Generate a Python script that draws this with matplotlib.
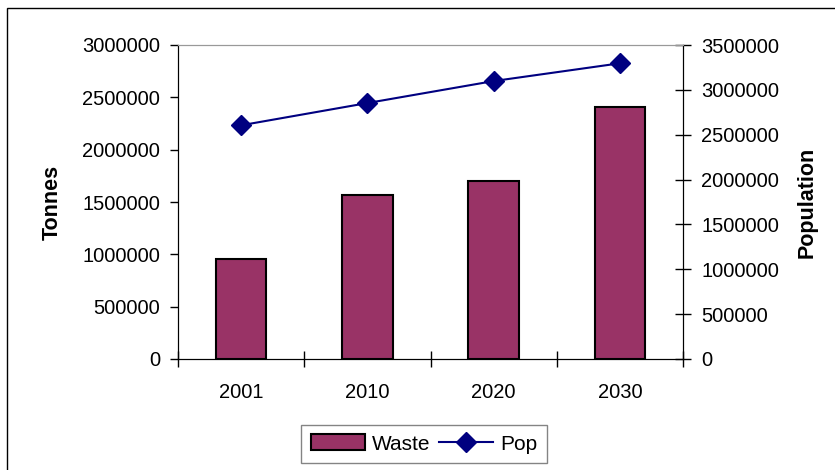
import matplotlib
matplotlib.use('Agg')
import matplotlib.pyplot as plt
from matplotlib.patches import Rectangle
import numpy as np

plt.rcParams['font.family'] = ['Liberation Sans', 'DejaVu Sans']
plt.rcParams['font.size'] = 14.5

years = ['2001', '2010', '2020', '2030']
waste = [955000, 1567000, 1700000, 2408000]
pop = [2605000, 2853000, 3098000, 3296000]

fig = plt.figure(figsize=(8.35, 4.7), dpi=100)
# outer chart border
fig.patches.append(Rectangle((7 / 835, -0.05), 1.2, (470 - 8) / 470 + 0.05,
                             transform=fig.transFigure, fill=False,
                             edgecolor='black', linewidth=1.0))

ax = fig.add_axes([178 / 835, 1 - 359 / 470, (683 - 178) / 835, (359 - 45) / 470])
x = np.arange(len(years))
ax.bar(x, waste, width=0.4, color='#993366', edgecolor='black', linewidth=1.5,
       label='Waste', zorder=2)
ax.set_xlim(-0.5, 3.5)
ax.set_ylim(0, 3000000)
ax.set_yticks(np.arange(0, 3000001, 500000))
ax.set_yticklabels([str(v) for v in range(0, 3000001, 500000)])
ax.set_xticks(x)
ax.set_xticklabels(years)
ax.set_xticks(np.arange(-0.5, 3.6, 1), minor=True)
ax.tick_params(axis='x', which='major', length=0, pad=17)
ax.tick_params(axis='x', which='minor', direction='inout', length=12, width=1)
ax.tick_params(axis='y', direction='out', length=6, width=1, pad=7)
ax.set_ylabel('Tonnes', fontweight='bold', fontsize=15.5, labelpad=14)
ax.spines['top'].set_color('#999999')
for s in ['left', 'bottom', 'right']:
    ax.spines[s].set_color('black')

ax2 = ax.twinx()
ax2.plot(x, pop, color='#000080', linewidth=1.5, marker='D', markersize=10,
         label='Pop', zorder=3)
ax2.set_ylim(0, 3500000)
ax2.set_yticks(np.arange(0, 3500001, 500000))
ax2.set_yticklabels([str(v) for v in range(0, 3500001, 500000)])
ax2.tick_params(axis='y', direction='inout', length=12, width=1, pad=7)
ax2.set_ylabel('Population', fontweight='bold', fontsize=15.5, labelpad=13)
ax2.spines['top'].set_color('#999999')
ax2.spines['right'].set_color('black')

h1, l1 = ax.get_legend_handles_labels()
h2, l2 = ax2.get_legend_handles_labels()
leg = fig.legend(h1 + h2, l1 + l2, loc='center', bbox_to_anchor=(424 / 835, 1 - 444 / 470),
                 ncol=2, frameon=True, fancybox=False, edgecolor='#666666',
                 handlelength=2.6, handleheight=0.8, columnspacing=0.4,
                 handletextpad=0.35, borderpad=0.45, fontsize=15)
leg.get_frame().set_linewidth(1.0)

fig.savefig('out.png', dpi=100)
